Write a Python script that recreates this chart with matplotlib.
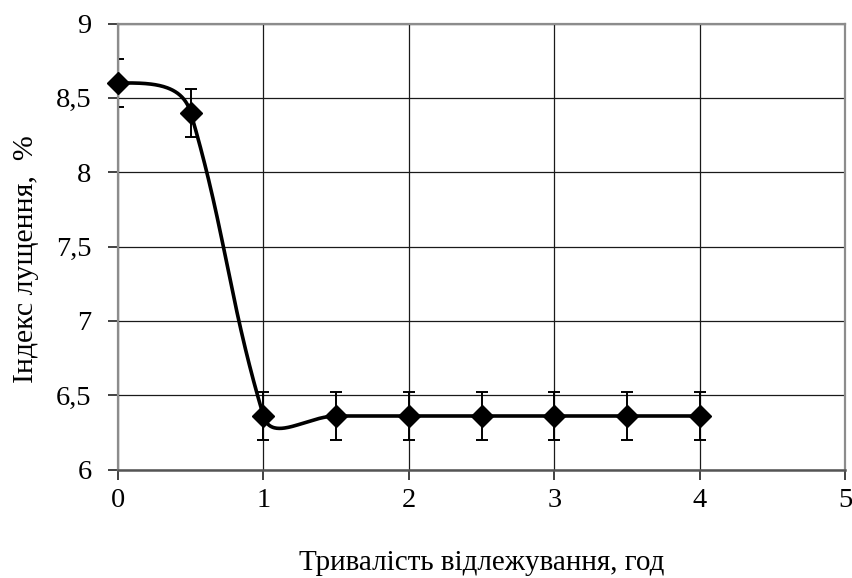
import numpy as np
import matplotlib
matplotlib.use("Agg")
import matplotlib.pyplot as plt

# Data
hours = [0, 0.5, 1, 1.5, 2, 2.5, 3, 3.5, 4]
index_vals = [8.6, 8.4, 6.36, 6.36, 6.36, 6.36, 6.36, 6.36, 6.36]
errors = [0.16, 0.16, 0.16, 0.16, 0.16, 0.16, 0.16, 0.16, 0.16]
x_ticks = [0, 1, 2, 3, 4, 5]
y_ticks = [6, 6.5, 7, 7.5, 8, 8.5, 9]
y_tick_labels = ["6", "6,5", "7", "7,5", "8", "8,5", "9"]

plt.rcParams['font.family'] = ['Liberation Serif', 'DejaVu Serif']

fig = plt.figure(figsize=(8.53, 5.78), dpi=100)
ax = fig.add_axes([0.1383, 0.1877, 0.8529, 0.7716])
ax.set_xlim(0, 5)
ax.set_ylim(6, 9)

ax.set_xticks(x_ticks)
ax.set_yticks(y_ticks)
ax.set_yticklabels(y_tick_labels)
ax.grid(True, color='#1a1a1a', linewidth=0.9)
ax.set_axisbelow(True)
for s in ['top', 'right', 'left']:
    ax.spines[s].set_color('#8c8c8c')
    ax.spines[s].set_linewidth(1.6)
ax.spines['bottom'].set_color('#555555')
ax.spines['bottom'].set_linewidth(1.8)
ax.tick_params(axis='both', direction='out', length=7, width=1.3, color='#333333',
               labelsize=20.5)
ax.tick_params(axis='y', pad=12)
ax.tick_params(axis='x', pad=6)

# Smoothed (Excel-like) curve computed in display space
fig.canvas.draw()
pts = ax.transData.transform(np.column_stack([hours, index_vals]))
k = 0.4
n = len(pts)

def unit(v):
    nv = np.hypot(*v)
    return v / nv if nv > 0 else v

tangents = []
for i in range(n):
    if i == 0 or i == n - 1:
        tangents.append(None)
    else:
        dprev = np.hypot(*(pts[i] - pts[i - 1]))
        dnext = np.hypot(*(pts[i + 1] - pts[i]))
        v = dprev * (pts[i] - pts[i - 1]) + dnext * (pts[i + 1] - pts[i])
        tangents.append(unit(v))

curve = [pts[0]]
for i in range(n - 1):
    p0, p3 = pts[i], pts[i + 1]
    d = np.hypot(*(p3 - p0))
    c2 = p3 - tangents[i + 1] * d * k if tangents[i + 1] is not None else None
    c1 = p0 + tangents[i] * d * k if tangents[i] is not None else None
    if c1 is None:
        c1 = p0 + (c2 - p0) * 0.5
    if c2 is None:
        c2 = p3 + (c1 - p3) * 0.5
    t = np.linspace(0, 1, 80)[1:, None]
    seg = ((1 - t) ** 3) * p0 + 3 * ((1 - t) ** 2) * t * c1 + 3 * (1 - t) * t ** 2 * c2 + t ** 3 * p3
    curve.extend(seg)
curve = np.array(curve)
curve_data = ax.transData.inverted().transform(curve)
ax.plot(curve_data[:, 0], curve_data[:, 1], color='black', linewidth=2.6, zorder=3,
        solid_capstyle='round')

ax.errorbar(hours, index_vals, yerr=errors, fmt='none', ecolor='black',
            elinewidth=1.4, capsize=4, capthick=1.4, zorder=2.2)
ax.plot(hours, index_vals, linestyle='none', marker='D', markersize=11,
        color='black', zorder=5, clip_on=False)

ax.set_xlabel('Тривалість відлежування, год', fontsize=21, labelpad=27)
ax.set_ylabel('Індекс лущення,  %', fontsize=21.5)
ax.yaxis.set_label_coords(-0.109, 0.472)

fig.savefig('out.png', dpi=100)
